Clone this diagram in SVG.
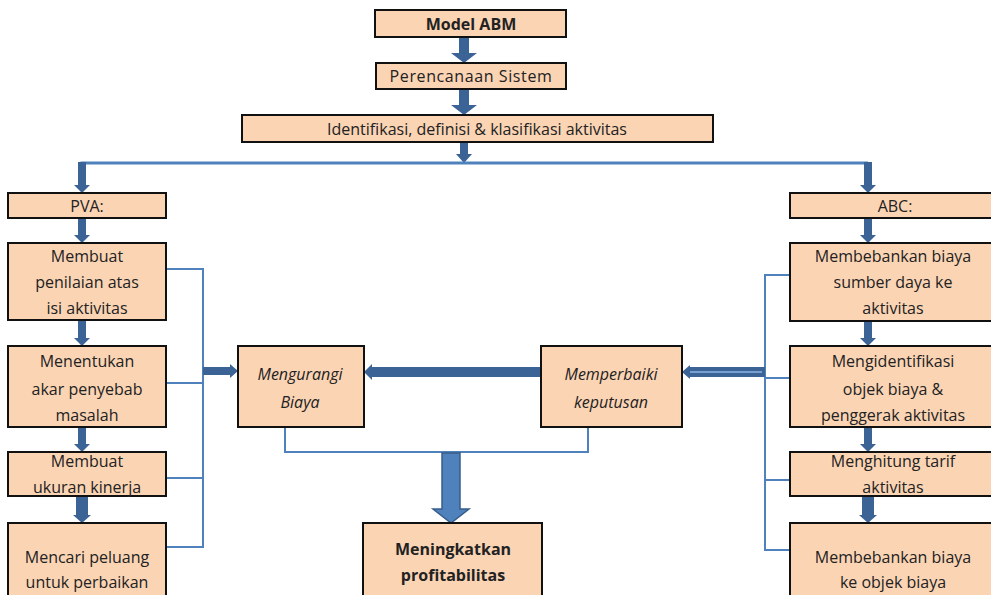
<svg xmlns="http://www.w3.org/2000/svg" width="991" height="595" viewBox="0 0 991 595">
<style>
.box{fill:#FBD4B4;stroke:#111;stroke-width:2}
.t{font-family:"Open Sans","DejaVu Sans",sans-serif;font-size:16px;fill:#222;text-anchor:middle}
.i{font-style:italic}
.b{font-weight:bold}
.arr{fill:#3B6396}
.ln{fill:none;stroke:#4F81BD;stroke-width:2}
</style>
<rect width="991" height="595" fill="#fff"/>
<g id="connectors">
<polygon class="arr" points="459,37 469,37 469,53 477,53 464,63 451,53 459,53"/>
<polygon class="arr" points="459,89 469,89 469,105 477,105 464,115 451,105 459,105"/>
<polygon class="arr" points="460,142 468,142 468,154 472,154 464,163 456,154 460,154"/>
<polyline class="ln" points="82,164 82,163 868,163" style="stroke-width:3"/>
<polygon class="arr" points="78,162 86,162 86,185 90,185 82,193 74,185 78,185"/>
<polygon class="arr" points="864,162 872,162 872,185 876,185 868,193 860,185 864,185"/>
<polygon class="arr" points="78,218 86,218 86,235 90,235 82,243 74,235 78,235"/>
<polygon class="arr" points="78,320 86,320 86,338 90,338 82,346 74,338 78,338"/>
<polygon class="arr" points="78,427 86,427 86,444 90,444 82,452 74,444 78,444"/>
<polygon class="arr" points="76,496 88,496 88,515 91,515 82,523 73,515 76,515"/>
<polygon class="arr" points="864,218 872,218 872,235 876,235 868,243 860,235 864,235"/>
<polygon class="arr" points="864,321 872,321 872,338 876,338 868,346 860,338 864,338"/>
<polygon class="arr" points="864,427 872,427 872,444 876,444 868,452 860,444 864,444"/>
<polygon class="arr" points="862,496 874,496 874,515 877,515 868,523 859,515 862,515"/>
<polyline class="ln" points="166,269 203,269 203,547 166,547"/>
<line class="ln" x1="166" y1="383" x2="203" y2="383"/>
<line class="ln" x1="166" y1="478" x2="203" y2="478"/>
<polyline class="ln" points="790,275 765,275 765,550 790,550"/>
<line class="ln" x1="765" y1="378" x2="790" y2="378"/>
<line class="ln" x1="765" y1="480" x2="790" y2="480"/>
<polygon class="arr" points="203,367 230,367 230,364 238,371 230,378 230,375 203,375"/>
<polygon class="arr" points="541,367 372,367 372,364 364,372 372,380 372,377 541,377"/>
<polygon class="arr" points="765,367 690,367 690,365 682,372 690,379 690,377 765,377"/>
<line x1="690" y1="372" x2="762" y2="372" stroke="#8DB3E2" stroke-width="1.5"/>
<polyline class="ln" points="285,427 285,452 588,452 588,427"/>
<polygon points="442,453 460,453 460,509 469,509 451,523 433,509 442,509" fill="#4F81BD" stroke="#385D8A" stroke-width="1.5"/>
</g>
<g id="model-abm"><rect class="box" x="375" y="10" width="191" height="27"/><text class="t b" x="471" y="30">Model ABM</text></g>
<g id="perencanaan"><rect class="box" x="376" y="63" width="190" height="26"/><text class="t" x="471" y="82" letter-spacing="0.6">Perencanaan Sistem</text></g>
<g id="identifikasi"><rect class="box" x="242" y="115" width="471" height="27"/><text class="t" x="477" y="135">Identifikasi, definisi &amp; klasifikasi aktivitas</text></g>
<g id="pva"><rect class="box" x="8" y="193" width="158" height="25"/><text class="t" x="87" y="212">PVA:</text></g>
<g id="pva-1"><rect class="box" x="8" y="243" width="158" height="77"/><text class="t" x="87" y="262">Membuat</text><text class="t" x="87" y="288">penilaian atas</text><text class="t" x="87" y="314">isi aktivitas</text></g>
<g id="pva-2"><rect class="box" x="8" y="346" width="158" height="81"/><text class="t" x="87" y="367">Menentukan</text><text class="t" x="87" y="395">akar penyebab</text><text class="t" x="87" y="421">masalah</text></g>
<g id="pva-3"><rect class="box" x="8" y="452" width="158" height="44"/><text class="t" x="87" y="467">Membuat</text><text class="t" x="87" y="493">ukuran kinerja</text></g>
<g id="pva-4"><rect class="box" x="8" y="523" width="158" height="80"/><text class="t" x="87" y="563">Mencari peluang</text><text class="t" x="87" y="588">untuk perbaikan</text></g>
<g id="abc"><rect class="box" x="790" y="193" width="210" height="25"/><text class="t" x="895" y="212">ABC:</text></g>
<g id="abc-1"><rect class="box" x="790" y="243" width="210" height="78"/><text class="t" x="893" y="262">Membebankan biaya</text><text class="t" x="893" y="288">sumber daya ke</text><text class="t" x="893" y="314">aktivitas</text></g>
<g id="abc-2"><rect class="box" x="790" y="346" width="210" height="81"/><text class="t" x="893" y="367">Mengidentifikasi</text><text class="t" x="893" y="395">objek biaya &amp;</text><text class="t" x="893" y="421">penggerak aktivitas</text></g>
<g id="abc-3"><rect class="box" x="790" y="452" width="210" height="44"/><text class="t" x="893" y="467">Menghitung tarif</text><text class="t" x="893" y="493">aktivitas</text></g>
<g id="abc-4"><rect class="box" x="790" y="523" width="210" height="80"/><text class="t" x="893" y="563">Membebankan biaya</text><text class="t" x="893" y="588">ke objek biaya</text></g>
<g id="mengurangi"><rect class="box" x="238" y="346" width="126" height="81"/><text class="t i" x="300" y="380">Mengurangi</text><text class="t i" x="300" y="408">Biaya</text></g>
<g id="memperbaiki"><rect class="box" x="541" y="346" width="141" height="81"/><text class="t i" x="611" y="380">Memperbaiki</text><text class="t i" x="611" y="408">keputusan</text></g>
<g id="meningkatkan"><rect class="box" x="363" y="523" width="179" height="80"/><text class="t b" x="453" y="555">Meningkatkan</text><text class="t b" x="453" y="581">profitabilitas</text></g>
</svg>
